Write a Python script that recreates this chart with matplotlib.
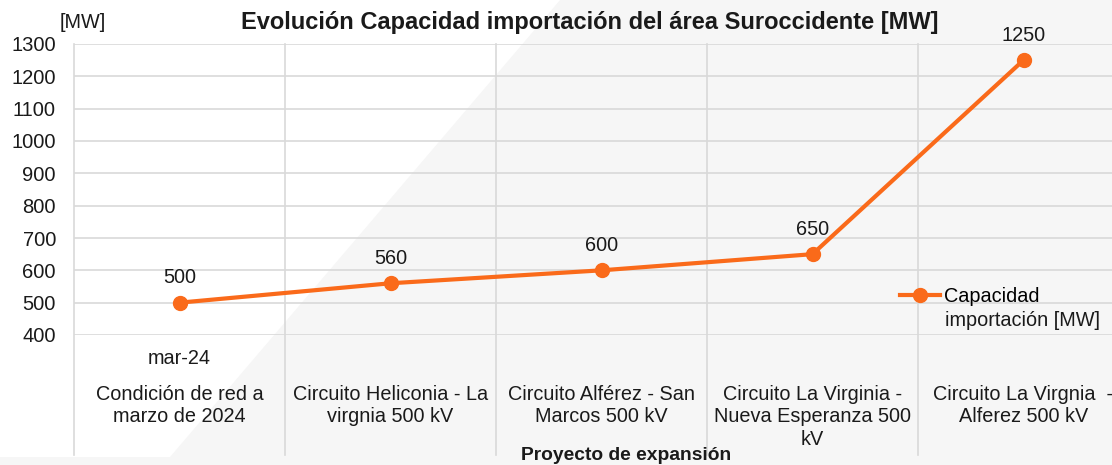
import matplotlib.pyplot as plt
from matplotlib.lines import Line2D
from matplotlib.patches import Polygon

plt.rcParams["font.family"] = ["Liberation Sans", "DejaVu Sans"]

# Datos de la gráfica
proyectos = [
    "Condición de red a\nmarzo de 2024",
    "Circuito Heliconia - La\nvirgnia 500 kV",
    "Circuito Alférez - San\nMarcos 500 kV",
    "Circuito La Virginia -\nNueva Esperanza 500\nkV",
    "Circuito La Virgnia  -\nAlferez 500 kV",
]
fechas = ["mar-24", "", "", "", ""]
capacidad = [500, 560, 600, 650, 1250]
yticks = list(range(400, 1301, 100))

naranja = "#fa6a1a"
gris = "#d9d9d9"
texto = "#1a1a1a"
W, H = 1112, 465

fig = plt.figure(figsize=(W / 100, H / 100), dpi=100)

# fondo diagonal gris muy claro
fondo = Polygon([(0, 0), (0, 8 / H), (170 / W, 8 / H), (560 / W, 1), (1, 1), (1, 0)],
                closed=True, transform=fig.transFigure, facecolor="#f6f6f6",
                edgecolor="none", zorder=-10)
fig.patches.append(fondo)

left, right, top, bottom = 74, 1112, 44, 335
ax = fig.add_axes([left / W, 1 - bottom / H, (right - left) / W, (bottom - top) / H])
ax.set_facecolor("none")

cat_w = 211
x = list(range(len(capacidad)))
ax.set_xlim(-0.5, -0.5 + (right - left) / cat_w)
ax.set_ylim(400, 1300)

ax.plot(x, capacidad, color=naranja, lw=3, marker="o", ms=10, zorder=5,
        label="Capacidad", clip_on=False)
for xi, v in zip(x, capacidad):
    ax.annotate(str(v), (xi, v), xytext=(0, 18), textcoords="offset points",
                ha="center", va="center", fontsize=14.3, color=texto)

ax.set_yticks(yticks)
ax.tick_params(axis="y", length=0, pad=13, labelsize=14.5, labelcolor=texto)
ax.set_xticks([])
for s in ax.spines.values():
    s.set_visible(False)
ax.yaxis.grid(True, color=gris, lw=1.2)
ax.set_axisbelow(True)

# separadores verticales de categorías, prolongados bajo el eje
ext = -(455 - bottom) / (bottom - top)
for b in [i - 0.5 for i in range(len(capacidad) + 1)]:
    ax.add_line(Line2D([b, b], [ext, 1], transform=ax.get_xaxis_transform(),
                       color=gris, lw=1.2, clip_on=False, zorder=0))

# etiquetas de categoría en dos niveles
for xi, f, p in zip(x, fechas, proyectos):
    if f:
        ax.text(xi, -(358 - bottom) / (bottom - top), f,
                transform=ax.get_xaxis_transform(), ha="center", va="center",
                fontsize=14.3, color=texto)
    ax.text(xi, -(385 - bottom) / (bottom - top), p,
            transform=ax.get_xaxis_transform(), ha="center", va="top",
            fontsize=14.3, color=texto, linespacing=1.22)

fig.text(626 / W, 1 - 455 / H, "Proyecto de expansión", ha="center", va="center",
         fontsize=13.9, fontweight="bold", color=texto)
fig.text(590 / W, 1 - 22 / H, "Evolución Capacidad importación del área Suroccidente [MW]",
         ha="center", va="center", fontsize=17, fontweight="bold", color=texto)
fig.text(60 / W, 1 - 22 / H, "[MW]", ha="left", va="center", fontsize=14.3,
         color=texto)

# leyenda: el marcador va a la altura de la primera línea del texto
ax.legend(loc="center left", bbox_to_anchor=(900 / W, 1 - 296 / H),
          bbox_transform=fig.transFigure, frameon=False, fontsize=14.3,
          handlelength=2.0, handletextpad=0.2, borderpad=0, borderaxespad=0)
fig.text(945 / W, 1 - 320 / H, "importación [MW]", ha="left", va="center",
         fontsize=14.3, color=texto)

fig.savefig("out.png", dpi=100)
